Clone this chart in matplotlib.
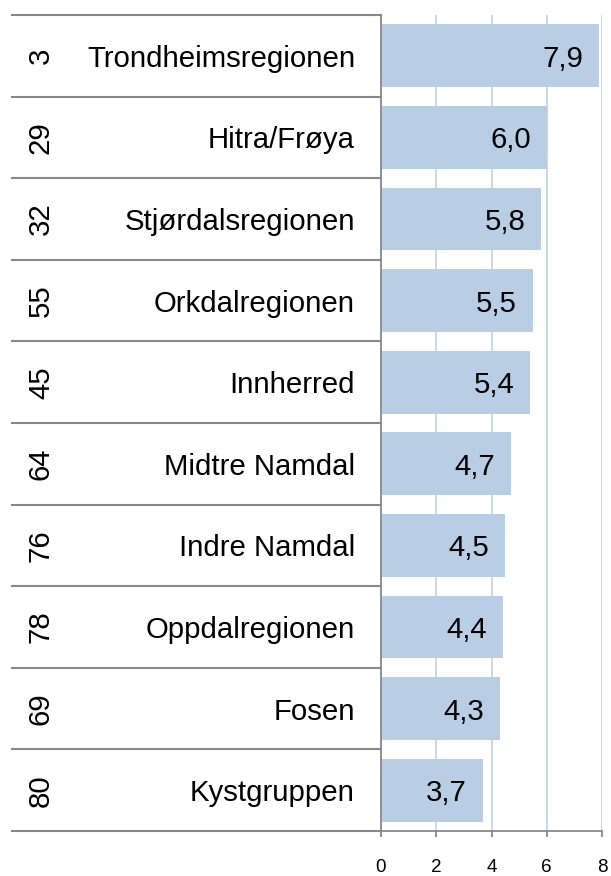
import matplotlib
matplotlib.use("Agg")
import matplotlib.pyplot as plt
from matplotlib.transforms import blended_transform_factory, offset_copy
from matplotlib.lines import Line2D

plt.rcParams['font.family'] = ['Liberation Sans', 'DejaVu Sans']

ranks = ["3", "29", "32", "55", "45", "64", "76", "78", "69", "80"]
regions = ["Trondheimsregionen", "Hitra/Frøya", "Stjørdalsregionen", "Orkdalregionen",
           "Innherred", "Midtre Namdal", "Indre Namdal", "Oppdalregionen", "Fosen", "Kystgruppen"]
values = [7.9, 6.0, 5.8, 5.5, 5.4, 4.7, 4.5, 4.4, 4.3, 3.7]
xticks = [0, 2, 4, 6, 8]

W, H = 611, 876
fig = plt.figure(figsize=(W / 100, H / 100), dpi=100)
x0, x1 = 381, 602
y0, y1 = 15, 831
ax = fig.add_axes([x0 / W, 1 - y1 / H, (x1 - x0) / W, (y1 - y0) / H])

n = len(values)
pos = list(range(n))
bar_color = "#b9cde5"
grid_color = "#c6d6ea"
line_color = "#898989"
fs = 21.2

ax.barh(pos, values, height=0.77, color=bar_color, zorder=2)
ax.set_ylim(n - 0.5, -0.5)
ax.set_xlim(0, 8)
ax.set_xticks(xticks)
ax.set_xticklabels([str(t) for t in xticks])
ax.set_yticks([])
ax.xaxis.grid(True, color=grid_color, linewidth=1.3, zorder=0)
ax.set_axisbelow(True)
for s in ["top", "right"]:
    ax.spines[s].set_visible(False)
for s in ["left", "bottom"]:
    ax.spines[s].set_color(line_color)
    ax.spines[s].set_linewidth(1.3)
ax.tick_params(axis="x", direction="out", length=4, width=1.3, color=line_color,
               labelsize=13.6, pad=16, labelcolor="black")

for i, v in enumerate(values):
    ax.annotate(f"{v:.1f}".replace(".", ","), xy=(v, i), xytext=(-16, -11),
                textcoords="offset pixels", ha="right", va="baseline",
                fontsize=fs, color="black", zorder=3)

tr = blended_transform_factory(fig.transFigure, ax.transData)
for b in [i - 0.5 for i in range(n + 1)]:
    ln = Line2D([12 / W, x0 / W], [b, b], transform=tr, color=line_color,
                linewidth=1.5, clip_on=False)
    fig.add_artist(ln)

tr_name = offset_copy(tr, fig=fig, x=0, y=-11, units="dots")
for i in range(n):
    fig.text(49 / W, i, ranks[i], transform=tr, rotation=90, ha="center",
             va="baseline", rotation_mode="anchor", fontsize=fs, color="black")
    fig.text(355 / W, i, regions[i], transform=tr_name, ha="right", va="baseline",
             fontsize=fs, color="black")

fig.savefig("out.png", dpi=100)
